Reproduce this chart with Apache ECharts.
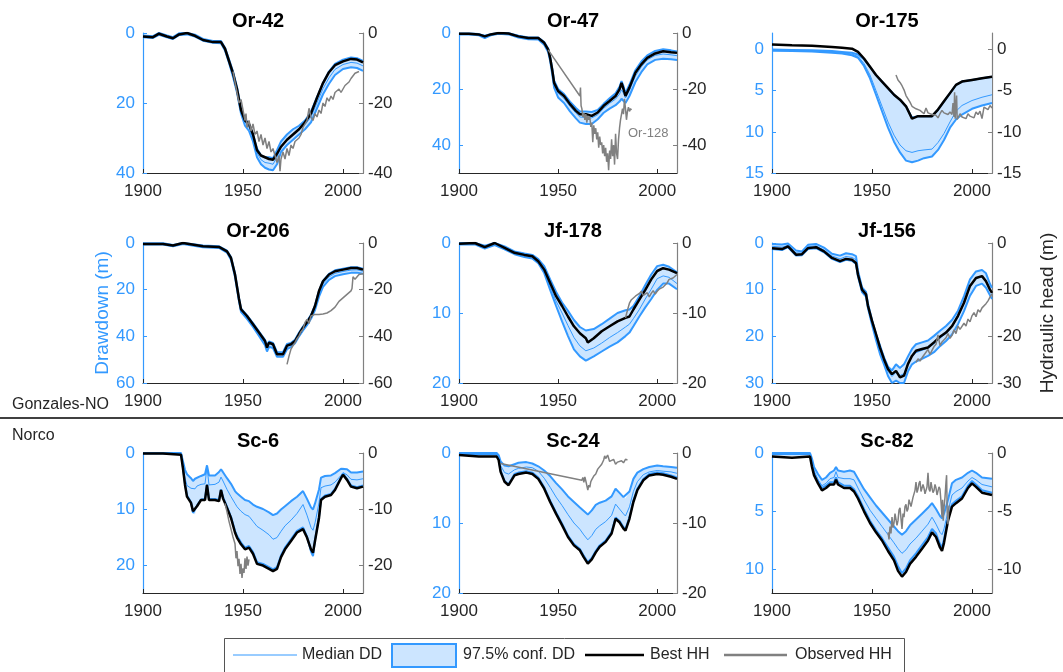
<!DOCTYPE html>
<html>
<head>
<meta charset="utf-8">
<script src="https://cdn.jsdelivr.net/npm/echarts@6/dist/echarts.min.js"></script>
<style>
html,body{margin:0;padding:0;background:#fff}
#chart{width:1063px;height:672px}
</style>
</head>
<body>
<div id="chart"></div>
<script>
// ---- Drawdown (DD, m, positive downward) bands and hydraulic head (HH, m) per well ----
// Or-42
const or42Years = [1900,1905,1908,1912,1915,1918,1922,1926,1930,1935,1939,1941,1943,1945,1947,1949,1951,1953,1955,1957,1959,1961,1963,1965,1967,1969,1972,1975,1978,1981,1984,1987,1990,1993,1996,2000,2004,2007,2010];
const or42Lo   = [0.7,0.9,0,0.7,1.2,0.1,0,0.5,1.7,2.3,2.3,4.2,7.5,11,15.5,21.5,24.5,26,29,33,35,35.5,35.5,35.8,33.5,31,29,27.5,26.5,25,22.5,18.3,14.3,11,8.8,7.6,7.0,7.2,8.0];
const or42Hi   = [1.2,1.4,0.5,1.2,1.7,0.6,0.4,1.0,2.2,2.8,2.9,5.0,8.5,12.5,17,23,26.5,28,31,35.5,37.5,38.5,39,39.2,37.5,34,32,30.5,29,27.5,25.5,21.5,17.5,14.5,12,10.3,9.8,10,10.8];
const or42Med  = [0.9,1.1,0.2,0.9,1.4,0.3,0.2,0.7,1.9,2.5,2.6,4.6,8,11.7,16.2,22.2,25.5,27,30,34.2,36.2,37,37.2,37.5,35.5,32.5,30.5,29,27.7,26.2,24,19.9,15.9,12.8,10.4,9,8.4,8.6,9.4];
const or42Best = [-1.0,-1.2,-0.2,-1.0,-1.5,-0.4,0,-0.8,-2.0,-2.6,-2.6,-4.5,-8,-11.5,-16,-22,-25,-26,-29,-33.5,-35,-35.5,-36,-36.2,-34.5,-32.5,-30.5,-29,-27.5,-25.5,-23,-18.5,-14.3,-11.2,-9.2,-8.1,-7.4,-7.6,-8.4];
const or42Obs = [[1945,-11],[1946,-14],[1947,-17],[1948,-20],[1949,-19],[1950,-22],[1951,-25],[1951.5,-23],[1952,-27],[1953,-25],[1954,-28],[1955,-26],[1956,-29],[1957,-28],[1958,-31],[1959,-29],[1960,-32],[1961,-30],[1962,-33],[1963,-31],[1964,-34],[1965,-33],[1966,-35],[1967,-37],[1968,-35],[1968.5,-39.5],[1969,-36],[1970,-34],[1971,-36],[1972,-33],[1973,-35],[1974,-32],[1975,-33],[1976,-31],[1977,-31.5],[1978,-30],[1979,-29],[1980,-27],[1981,-27.5],[1982,-25],[1983,-21.5],[1984,-24],[1985,-25],[1986,-23],[1987,-24],[1988,-22],[1989,-23],[1990,-20],[1991,-21],[1992,-18.5],[1993,-19.5],[1994,-18],[1995,-19],[1996,-17],[1997,-17.5],[1998,-16],[1999,-17],[2000,-16],[2001,-15],[2002,-15.5],[2003,-14],[2004,-13],[2005,-13.5],[2006,-11.5],[2007,-12],[2008,-11]];

// Or-47 (observed head from Or-128)
const or47Years = [1900,1905,1910,1913,1916,1920,1925,1930,1935,1940,1943,1945,1946,1947,1948,1950,1953,1956,1959,1961,1964,1967,1970,1973,1976,1979,1981,1982,1983,1984,1986,1989,1992,1995,1999,2003,2007,2010];
const or47Lo   = [0.2,0.2,0.4,1.0,0.4,0,0.1,1.0,1.6,1.6,3.2,5.5,8.5,12.5,17,20,21.8,24.5,26.8,28,28,28.2,27.5,25.3,23.3,21.5,19.2,17.2,19,21.5,18.5,13.3,10.2,8,6.4,5.8,6.2,6.6];
const or47Hi   = [0.5,0.5,0.8,1.8,0.8,0.3,0.5,1.6,2.2,2.3,4.2,6.8,10,14.5,19.5,23,25,28,30.5,32,32.5,32.5,30.8,28.5,27,25.8,24.5,23.5,24,25,22.5,17.5,14,11.2,9.6,9.2,9.4,9.6];
const or47Med  = [0.35,0.35,0.6,1.4,0.6,0.15,0.3,1.3,1.9,1.9,3.7,6.1,9.2,13.5,18.2,21.5,23.4,26.2,28.6,30,30.2,30.3,29.2,26.9,25.1,23.6,21.8,20.3,21.5,23.2,20.5,15.4,12.1,9.6,8,7.5,7.8,8.1];
const or47Best = [-0.3,-0.3,-0.5,-1.2,-0.5,0,-0.2,-1.2,-1.8,-1.8,-3.5,-5.9,-8.9,-13,-17.8,-20.7,-22.5,-25.4,-27.8,-29,-29,-29.6,-28.4,-26,-24.3,-22.5,-20.1,-17.8,-20,-22.5,-19.5,-14.2,-11.2,-8.9,-7.3,-6.5,-6.9,-7.1];
const or47Obs = [[1945,-6],[1961,-22.5],[1961.3,-19.5],[1961.6,-26],[1962,-27],[1962.5,-30],[1963,-28.5],[1963.5,-31],[1964,-29],[1964.5,-32],[1965,-29.5],[1965.5,-31],[1966,-30],[1966.5,-33.5],[1967,-32],[1967.5,-39],[1968,-33],[1968.5,-36],[1969,-34],[1969.5,-38],[1970,-35.5],[1970.5,-41],[1971,-37],[1971.5,-40],[1972,-39],[1972.5,-43],[1973,-40],[1973.5,-44],[1974,-41],[1974.5,-46],[1975,-43],[1975.5,-49],[1976,-42],[1976.5,-45],[1977,-38],[1977.5,-44],[1978,-40],[1978.5,-47],[1979,-36],[1979.5,-43],[1980,-45],[1980.5,-38],[1981,-34],[1981.5,-31],[1982,-30.5],[1982.5,-27],[1983,-29],[1983.5,-23.5],[1984,-27],[1984.5,-31],[1985,-28],[1985.5,-26.5],[1986,-28],[1986.5,-27],[1987,-27.5]];

// Or-175
const or175Years = [1900,1910,1920,1930,1935,1940,1943,1946,1949,1952,1955,1958,1961,1964,1967,1970,1973,1976,1980,1983,1986,1989,1992,1995,2000,2005,2010];
const or175Lo   = [0,0.05,0.1,0.2,0.3,0.4,0.6,1.2,2.1,3.1,3.9,4.7,5.5,6.1,6.9,8.3,8.1,8.1,8.1,7.3,6.3,5.3,4.3,3.9,3.7,3.5,3.3];
const or175Hi   = [0.15,0.2,0.25,0.4,0.5,0.7,1.0,2.0,3.5,5.5,7.5,9.5,11.2,12.5,13.5,13.7,13.5,13.2,13.0,12.2,11.0,9.5,8.5,7.9,7.2,6.8,6.5];
const or175Med  = [0.08,0.12,0.18,0.3,0.4,0.55,0.85,1.7,3.1,5.0,6.9,8.8,10.4,11.6,12.3,12.5,12.3,12.2,12.1,11.3,10.2,8.8,7.5,6.8,6.2,5.8,5.5];
const or175Best = [0.6,0.5,0.45,0.3,0.2,0.1,-0.3,-1.1,-2.1,-3.1,-3.9,-4.7,-5.5,-6.1,-6.9,-8.4,-8.1,-8.1,-8.1,-7.3,-6.3,-5.3,-4.3,-3.9,-3.7,-3.5,-3.3];
const or175Obs = [[1962,-3.1],[1963,-3.7],[1964,-4.0],[1965,-4.4],[1966,-4.9],[1967,-5.6],[1968,-5.4],[1969,-6.4],[1970,-6.9],[1971,-6.7],[1972,-7.2],[1973,-7.0],[1974,-7.4],[1975,-7.2],[1976,-7.8],[1977,-7.1],[1978,-7.7],[1979,-7.5],[1980,-7.9],[1981,-8.1],[1982,-8.0],[1983,-8.3],[1984,-7.8],[1985,-7.4],[1986,-7.7],[1987,-7.5],[1988,-7.9],[1989,-7.6],[1990,-7.9],[1990.5,-6.5],[1991,-8.2],[1991.3,-5.2],[1991.6,-8.4],[1992,-6.8],[1992.3,-5.6],[1992.6,-8.5],[1993,-8.3],[1994,-7.8],[1995,-8.2],[1996,-8.0],[1997,-8.4],[1998,-7.8],[1999,-8.1],[2000,-8.0],[2001,-8.3],[2002,-7.6],[2003,-7.9],[2004,-7.5],[2005,-8.4],[2006,-7.0],[2007,-6.8],[2008,-7.3],[2009,-6.8],[2010,-7.1]];

// Or-206
const or206Years = [1900,1910,1915,1920,1930,1938,1942,1944,1946,1948,1949,1952,1955,1958,1961,1962,1963,1965,1967,1970,1972,1974,1976,1978,1980,1982,1984,1986,1988,1990,1993,1996,2000,2004,2007,2010];
const or206Lo   = [0.1,0.1,0.8,0,1.1,1.4,3.3,6,13,23.5,28,31,34.3,38,41.5,44.2,42.2,42.8,46.8,46.8,43.3,42.8,41.5,38.5,35.8,33.5,30.8,26.7,20.5,16.2,13.2,11.7,11.0,10.4,10.4,11.0];
const or206Hi   = [0.6,0.6,1.4,0.4,1.8,2.1,4.1,7.2,14.5,25,29.5,32.5,36,39.8,43.8,46.5,44.5,45,48.8,48.8,45.5,44.5,43,40,37.5,35.2,32.5,28.7,23,18.8,15.8,14.2,13.4,12.8,12.7,13.2];
const or206Med  = [0.35,0.35,1.1,0.2,1.45,1.75,3.7,6.6,13.8,24.2,28.7,31.7,35.1,38.9,42.6,45.3,43.3,43.9,47.8,47.8,44.4,43.6,42.2,39.2,36.6,34.3,31.6,27.7,21.8,17.5,14.5,13,12.2,11.6,11.5,12.1];
const or206Best = [-0.4,-0.4,-1.1,0,-1.4,-1.7,-3.6,-6.4,-13.5,-24,-28.4,-31.3,-34.8,-38.4,-42,-44.8,-42.7,-43.4,-47.7,-47.7,-44,-43.4,-42,-39,-36.3,-34,-31.3,-27,-20.6,-16.4,-13.5,-12.1,-11.4,-10.7,-10.7,-11.4];
const or206Obs = [[1972,-52],[1973,-48.5],[1974,-45.5],[1975,-44],[1976,-42.7],[1977,-41],[1978,-39.8],[1979,-38],[1980,-37],[1981,-34],[1982,-32.7],[1983,-34.5],[1984,-31.3],[1986,-30.6],[1988,-30.6],[1990,-30.4],[1992,-30],[1994,-29],[1996,-27.5],[1998,-25],[2000,-23.5],[2002,-22],[2004,-20.5],[2004.5,-19.5],[2005,-14.5],[2006,-15.5],[2007,-15],[2008,-13.5],[2009,-14],[2010,-13.2]];

// Jf-178
const jf178Years = [1900,1908,1913,1918,1923,1928,1933,1937,1940,1943,1946,1949,1952,1955,1958,1961,1964,1965,1968,1972,1976,1980,1984,1986,1988,1991,1994,1997,2000,2003,2006,2010];
const jf178Lo   = [0,0,0.4,0,0.5,1.2,1.5,1.7,2.3,3.3,5.2,7,8.5,9.7,11,12,12.5,12.6,12.3,11.6,10.8,10,9.6,9.5,9,7.6,6,4.5,3.3,3.1,3.4,4.2];
const jf178Hi   = [0.2,0.2,0.8,0.3,0.9,1.6,2.0,2.2,2.9,4.3,6.7,9,11.2,13.3,15.2,16.2,16.8,16.9,16.2,15.5,14.8,14.2,13.3,12.8,11.9,10.5,9.2,8,6.7,5.8,5.8,6.6];
const jf178Med  = [0.1,0.1,0.6,0.1,0.7,1.4,1.75,1.95,2.6,3.8,6.2,8.3,10,11.8,13.5,14.7,15.4,15.6,15,14.3,13.5,12.8,12,11.6,10.8,9.5,8,6.6,5.1,4.7,4.9,5.8];
const jf178Best = [-0.1,0,-0.6,0,-0.7,-1.4,-1.7,-1.9,-2.6,-3.8,-5.7,-7.6,-9,-10.5,-11.9,-12.9,-13.6,-14.2,-13.6,-12.6,-11.9,-11.2,-10.7,-10.5,-9.5,-8.1,-6.7,-5.2,-4,-3.6,-3.8,-4.3];
const jf178Obs = [[1984,-10.7],[1985,-9.6],[1986,-8.6],[1987,-8.1],[1988,-7.9],[1989,-7.6],[1990,-7.4],[1991,-7.2],[1992,-6.9],[1993,-7.5],[1994,-7.6],[1995,-7.1],[1996,-7.7],[1997,-7.2],[1998,-6.8],[1999,-7.3],[2000,-6.9],[2001,-6.6],[2002,-6.4],[2003,-6.3],[2004,-6.0],[2005,-5.7],[2006,-5.2],[2007,-5.3],[2008,-5.0],[2009,-4.8],[2010,-4.5]];

// Jf-156
const jf156Years = [1900,1905,1908,1912,1915,1918,1922,1926,1930,1934,1937,1940,1942,1943,1945,1947,1948,1950,1952,1954,1956,1958,1960,1962,1964,1965,1966,1968,1970,1972,1975,1978,1981,1984,1987,1990,1993,1996,1999,2002,2005,2007,2009,2010];
const jf156Lo   = [0.2,0.3,0.1,1.6,1.8,0.4,0.2,1.0,2.3,2.7,2.2,2.4,2.8,6.0,9.5,10.5,13,16.5,19.5,22,24.5,26.5,27.3,26,26.8,27,26,24.3,22.7,21.7,21.3,20.9,19.9,18.8,17.8,16.5,14.5,11.4,7.8,6.1,5.8,6.5,8.8,9.6];
const jf156Hi   = [1.3,1.5,0.9,2.7,2.6,1.3,1.1,2.0,3.4,4.1,3.6,3.8,4.5,7.2,10.5,11.5,14,17.5,20.8,23.8,26,28.5,30,29.5,30,30,30,27.5,26,25.4,24.8,24.2,23.4,22.1,21,19.6,17.4,14.6,11.3,9.2,8.7,9.6,11.2,12];
const jf156Med  = [0.7,0.9,0.5,2.1,2.2,0.8,0.6,1.5,2.8,3.4,2.9,3.1,3.6,6.6,10,11,13.5,17,20.1,22.9,25.2,27.5,28.6,27.7,28.4,28.5,28,25.9,24.3,23.5,23,22.5,21.6,20.4,19.4,18,15.9,12.9,9.5,7.6,7.2,8,10,10.8];
const jf156Best = [-1.1,-1.3,-0.7,-2.5,-2.4,-1.1,-0.9,-1.8,-3.2,-3.9,-3.4,-3.6,-4.3,-6.8,-10,-11,-13.5,-16.7,-19.5,-22.4,-24.9,-27,-28.1,-27.4,-28.8,-29.1,-28.4,-25.9,-24.2,-23.1,-22.7,-22.4,-21.3,-20.1,-19.2,-17.8,-15.6,-12.8,-9.2,-7.5,-7.1,-8.2,-10,-10.7];
const jf156Obs = [[1972,-25.6],[1973,-24.8],[1974,-25.3],[1975,-24.6],[1976,-24.0],[1977,-23.6],[1978,-22.8],[1979,-23.9],[1980,-23.0],[1981,-22.2],[1982,-21.7],[1983,-19.7],[1984,-22.0],[1985,-21.2],[1986,-21.5],[1987,-20.3],[1988,-19.4],[1989,-20.4],[1990,-19.8],[1991,-18.6],[1992,-19.4],[1993,-17.8],[1994,-18.5],[1995,-18.3],[1996,-17.2],[1997,-17.8],[1998,-16.3],[1999,-16.9],[2000,-15.6],[2001,-14.9],[2002,-15.8],[2003,-14.3],[2004,-14.8],[2005,-13.9],[2006,-13.6],[2007,-13.0],[2008,-12.4],[2009,-11.6],[2010,-10.9]];

// Sc-6
const sc6Years = [1900,1910,1919,1920,1921,1922,1924,1925,1926,1927,1929,1931,1932,1933,1936,1938,1939,1940,1942,1944,1946,1947,1949,1951,1953,1955,1957,1960,1963,1965,1967,1969,1971,1974,1977,1980,1982,1984,1985,1986,1988,1989,1991,1994,1996,1999,2000,2002,2004,2007,2010];
const sc6Lo   = [0,0,0,1.5,3,3.8,4.5,5,4.6,4.3,4.1,3.8,2.2,4,4,3.4,2.9,3,4.5,5.5,6.8,7.2,7.8,8.4,8.6,9.2,9.6,10,10.6,11.1,10.8,10.1,9.5,8.6,7.8,6.8,8.2,9.7,10.1,9,6.5,4.4,4.1,4,3.6,2.8,2.6,2.9,3.5,3.5,3.3];
const sc6Hi   = [0.1,0.1,0.2,2.6,5.5,7.6,8.8,10.7,11.0,9.4,8.3,8.2,5.6,8.2,8.2,8.4,6.5,7.9,9.6,11.4,13.9,14.8,16.0,16.9,16.6,17.7,19.5,19.8,20.4,20.8,20.4,18.3,16.9,15.4,13.9,13.3,14.9,17.6,18.4,15.5,11.4,8.2,7.6,7.3,6.4,4.3,3.7,4.6,5.8,6.1,5.8];
const sc6Med  = [0.05,0.05,0.1,2,4.5,5.8,6.3,6.6,6.4,5.9,5.6,5.5,2.5,5.7,5.6,5.2,4.3,5,6.5,7.8,9,9.6,10.4,11,11.3,12.2,13.1,13.8,14.6,15.4,15.1,14,13,12,10.8,9.2,11.1,13.3,13.8,12.5,8.9,6.2,5.9,5.7,5.2,4,3.5,3.9,4.7,4.8,4.6];
const sc6Best = [-0.1,-0.1,-0.3,-2.8,-5.7,-7.8,-8.9,-10.4,-10.7,-9.5,-8.4,-8.4,-5.7,-8.4,-8.4,-8.6,-6.6,-8.1,-9.8,-11.6,-14.2,-15.1,-16.3,-17.2,-16.9,-18,-19.8,-20.1,-20.7,-21.1,-20.7,-18.6,-17.2,-15.7,-14.2,-13.6,-15.1,-17.2,-17.8,-15.7,-11.6,-8.4,-7.8,-7.5,-6.6,-4.5,-3.9,-4.8,-6,-6.3,-6];
const sc6Obs = [[1941,-9],[1942,-10.5],[1943,-12.2],[1944,-13.6],[1945,-15],[1946,-16.2],[1946.5,-18.8],[1947,-17.5],[1947.5,-20.2],[1948,-18.9],[1948.5,-21.6],[1949,-19.8],[1949.5,-22.3],[1950,-20.6],[1950.5,-21.4],[1951,-18.8],[1951.5,-20.7],[1952,-18.5],[1952.5,-20.1],[1953,-19]];

// Sc-24
const sc24Years = [1900,1910,1919,1920,1921,1923,1925,1926,1928,1930,1934,1937,1940,1943,1946,1949,1952,1955,1958,1961,1963,1965,1967,1969,1971,1974,1977,1979,1981,1983,1984,1986,1988,1990,1993,1996,2000,2003,2007,2010];
const sc24Lo   = [0,0,0,0.3,1.2,1.8,1.9,1.8,1.6,1.4,1.3,1.5,1.9,2.5,3.3,4.3,5.2,6.2,7,7.8,8.3,8.8,8.2,7.4,7.1,6.8,6.2,5.1,5.7,6.3,6.5,5.5,3.7,2.8,2.3,2,1.8,1.9,2,2.1];
const sc24Hi   = [0.1,0.2,0.2,0.8,2.5,4.0,4.5,4.3,3.0,2.8,2.6,2.8,3.5,4.9,6.8,8.5,10.1,11.8,13,13.7,14.7,15.6,15,14,13.2,12.5,11.3,9.2,9.7,10.6,10.9,9.2,6.8,5.1,3.7,3,2.8,2.9,3.2,3.5];
const sc24Med  = [0.05,0.1,0.1,0.5,1.8,2.8,3,2.9,2.4,2.2,2,2.1,2.6,3.6,4.9,6.3,7.5,8.8,10,10.9,11.7,12.4,11.8,10.9,10.4,9.8,8.9,7.3,8,8.7,9,7.7,5.5,4.1,3.1,2.7,2.5,2.6,2.7,2.9];
const sc24Best = [-0.3,-0.5,-0.5,-1,-2.7,-4.1,-4.6,-4.4,-3.2,-3,-2.8,-3,-3.7,-5.1,-7,-8.7,-10.3,-12,-13.2,-13.9,-14.9,-15.8,-15.2,-14.2,-13.4,-12.7,-11.5,-9.4,-9.9,-10.8,-11.1,-9.4,-7,-5.3,-3.9,-3.2,-3,-3.1,-3.4,-3.7];
const sc24Obs = [[1921,-1.5],[1962,-3.9],[1962.5,-3.5],[1963,-4.2],[1963.5,-3.4],[1964,-4.0],[1964.5,-3.8],[1965,-5.3],[1965.5,-4.6],[1966,-4.9],[1966.5,-4.1],[1967,-3.8],[1968,-3.3],[1969,-3.0],[1970,-2.3],[1971,-2.5],[1972,-1.6],[1973,-1.0],[1973.5,-0.4],[1974,-0.8],[1975,-0.3],[1976,-1.2],[1977,-1.4],[1978,-0.9],[1979,-1.6],[1980,-1.3],[1981,-1.5],[1982,-1.1],[1983,-1.4],[1984,-0.9],[1985,-1.0]];

// Sc-82
const sc82Years = [1900,1910,1919,1920,1921,1923,1925,1927,1929,1931,1932,1933,1936,1939,1941,1943,1946,1949,1952,1955,1958,1961,1963,1965,1967,1969,1972,1975,1978,1980,1982,1984,1985,1986,1988,1990,1992,1995,1998,2000,2002,2005,2010];
const sc82Lo   = [0,0,0,0.5,1.2,1.8,2.3,2.1,1.7,1.5,1.2,1.5,1.6,1.5,1.6,2.2,3.1,3.8,4.5,5.1,5.7,6.3,6.7,7,6.7,6.2,5.7,5.2,4.7,4.3,4.8,5.4,5.6,5.2,4,2.6,2.3,2.1,1.7,1.5,1.7,2.1,2.2];
const sc82Hi   = [0.1,0.1,0.1,1.0,1.7,2.4,3.0,2.8,2.5,2.5,2.1,2.5,2.8,2.8,3.1,3.7,4.8,5.8,6.6,7.3,8.1,8.9,9.7,10.3,9.9,9.2,8.6,7.9,7.2,6.5,6.9,7.8,8.1,7.4,5.5,4.4,4.1,3.7,2.8,2.4,2.7,3.2,3.4];
const sc82Med  = [0.05,0.05,0.05,0.7,1.5,2.3,2.8,2.6,2.2,2.1,1.6,2.1,2.2,2.2,2.3,3,4,4.9,5.6,6.3,7,7.7,8.2,8.6,8.3,7.8,7.3,6.7,6.1,5.5,6.1,6.8,7,6.5,5,3.6,3.3,3,2.4,2.1,2.3,2.7,2.9];
const sc82Best = [-0.3,-0.4,-0.3,-1.2,-1.9,-2.6,-3.2,-3,-2.7,-2.7,-2.3,-2.7,-3,-3,-3.3,-3.9,-5,-6,-6.8,-7.5,-8.4,-9.2,-10.1,-10.6,-10.2,-9.5,-8.9,-8.2,-7.5,-6.8,-7.2,-8.1,-8.4,-7.7,-5.8,-4.6,-4.3,-3.9,-3,-2.6,-2.9,-3.4,-3.6];
const sc82Obs = [[1958,-6.8],[1958.5,-7.4],[1959,-6.3],[1959.5,-6.9],[1960,-5.5],[1960.5,-6.4],[1961,-6.0],[1961.5,-5.2],[1962,-5.3],[1962.5,-6.2],[1963,-5.8],[1963.5,-4.9],[1964,-4.7],[1964.5,-5.6],[1965,-6.5],[1965.5,-5.2],[1966,-5.5],[1966.5,-4.6],[1967,-4.4],[1967.5,-5.0],[1968,-4.8],[1968.5,-4.0],[1969,-4.0],[1969.5,-4.6],[1970,-4.7],[1970.5,-3.8],[1971,-3.7],[1971.5,-3.2],[1972,-2.5],[1972.5,-3.4],[1973,-3.1],[1973.5,-2.6],[1974,-2.4],[1974.5,-3.3],[1975,-3.2],[1975.5,-2.7],[1976,-3.0],[1976.5,-3.5],[1977,-3.2],[1977.5,-2.9],[1978,-1.7],[1978.5,-3.1],[1979,-3.3],[1979.5,-2.5],[1980,-3.0],[1980.5,-3.4],[1981,-3.2],[1981.5,-2.7],[1982,-3.0],[1982.5,-3.6],[1983,-3.5],[1983.5,-2.9],[1984,-3.1],[1984.5,-4.2],[1985,-5.5],[1985.3,-4.0],[1985.6,-5.8],[1986,-4.7],[1986.5,-3.8],[1987,-2.5],[1987.3,-1.9],[1987.6,-5.0],[1988,-6.1],[1988.5,-4.5]];

// Axis ranges / ticks (drawdown axis; head axis is its mirror)
const yearTicks = [1900, 1950, 2000];
const wells = ['Or-42','Or-47','Or-175','Or-206','Jf-178','Jf-156','Sc-6','Sc-24','Sc-82'];
const ddRanges = [[0,40],[0,50],[-2,15],[0,60],[0,20],[0,30],[0,25],[0,20],[0,12]];
const ddTicks = [[0,20,40],[0,20,40],[0,5,10,15],[0,20,40,60],[0,10,20],[0,10,20,30],[0,10,20],[0,10,20],[0,5,10]];
const legendLabels = ['Median DD','97.5% conf. DD','Best HH','Observed HH'];

const wellData = [
  [or42Years, or42Lo, or42Hi, or42Med, or42Best, or42Obs],
  [or47Years, or47Lo, or47Hi, or47Med, or47Best, or47Obs],
  [or175Years, or175Lo, or175Hi, or175Med, or175Best, or175Obs],
  [or206Years, or206Lo, or206Hi, or206Med, or206Best, or206Obs],
  [jf178Years, jf178Lo, jf178Hi, jf178Med, jf178Best, jf178Obs],
  [jf156Years, jf156Lo, jf156Hi, jf156Med, jf156Best, jf156Obs],
  [sc6Years, sc6Lo, sc6Hi, sc6Med, sc6Best, sc6Obs],
  [sc24Years, sc24Lo, sc24Hi, sc24Med, sc24Best, sc24Obs],
  [sc82Years, sc82Lo, sc82Hi, sc82Med, sc82Best, sc82Obs]
];

// ---- layout & styling ----
const FONT = '"Liberation Sans", Arial, Helvetica, sans-serif';
const BLUE = '#3399ff';
const FILL = '#cce5ff';
const GREY = '#808080';
const INK = '#262626';
const colLeft = [143, 459, 772];
const colWidth = [220, 218, 220];
const rowTop = [33, 243, 453];
const plotH = 140;
const TICK_FONT = 17;
const plain = v => String(v);

const grids = [], xAxes = [], yAxes = [], series = [], titles = [];

wells.forEach((name, i) => {
  const col = i % 3, row = Math.floor(i / 3);
  const [years, lo, hi, med, best, obs] = wellData[i];
  const [dMin, dMax] = ddRanges[i];
  const left = colLeft[col], top = rowTop[row], width = colWidth[col];

  grids.push({ left, top, width, height: plotH, containLabel: false });
  titles.push({
    text: name, left: left + width / 2, top: top - 27, textAlign: 'center',
    textStyle: { fontFamily: FONT, fontSize: 20, fontWeight: 'bold', color: '#000' }
  });

  xAxes.push({
    gridIndex: i, type: 'value', min: 1900, max: 2010,
    axisLine: { show: true, onZero: false, lineStyle: { color: INK, width: 1 } },
    axisTick: { show: true, inside: true, length: 4, customValues: yearTicks, lineStyle: { color: INK } },
    axisLabel: { customValues: yearTicks, formatter: plain, color: INK, fontFamily: FONT, fontSize: TICK_FONT, margin: 10 },
    splitLine: { show: false }
  });

  const leftTicks = ddTicks[i];
  const rightTicks = ddTicks[i].map(v => (v === 0 ? 0 : -v));
  yAxes.push({
    gridIndex: i, type: 'value', position: 'left', inverse: true, min: dMin, max: dMax,
    axisLine: { show: true, onZero: false, lineStyle: { color: BLUE, width: 1.2 } },
    axisTick: { show: true, inside: true, length: 4, customValues: leftTicks, lineStyle: { color: BLUE } },
    axisLabel: { customValues: leftTicks, formatter: plain, color: BLUE, fontFamily: FONT, fontSize: TICK_FONT, margin: 8 },
    splitLine: { show: false }
  });
  yAxes.push({
    gridIndex: i, type: 'value', position: 'right', min: -dMax, max: -dMin,
    axisLine: { show: true, onZero: false, lineStyle: { color: GREY, width: 1.2 } },
    axisTick: { show: true, inside: true, length: 4, customValues: rightTicks, lineStyle: { color: GREY } },
    axisLabel: { customValues: rightTicks, formatter: plain, color: INK, fontFamily: FONT, fontSize: TICK_FONT, margin: 5 },
    splitLine: { show: false }
  });

  const yl = 2 * i, yr = 2 * i + 1;
  // confidence band as a filled polygon between the lower and upper bound
  series.push({
    type: 'custom', xAxisIndex: i, yAxisIndex: yl, silent: true, z: 1,
    data: years.map((y, k) => [y, lo[k], hi[k]]),
    encode: { x: 0, y: [1, 2] },
    renderItem: (params, api) => {
      if (params.dataIndex !== 0) return null;
      const upper = years.map((y, k) => api.coord([y, lo[k]]));
      const lower = years.map((y, k) => api.coord([y, hi[k]])).reverse();
      return { type: 'polygon', shape: { points: upper.concat(lower) }, style: { fill: FILL, stroke: null } };
    }
  });
  const line = (data, yIdx, color, width, z) => ({
    type: 'line', xAxisIndex: i, yAxisIndex: yIdx, data, symbol: 'none', silent: true, z,
    lineStyle: { color, width }, emphasis: { disabled: true }
  });
  series.push(line(years.map((y, k) => [y, lo[k]]), yl, BLUE, 2, 2));
  series.push(line(years.map((y, k) => [y, hi[k]]), yl, BLUE, 2, 2));
  series.push(line(years.map((y, k) => [y, med[k]]), yl, BLUE, 1, 3));
  series.push(line(years.map((y, k) => [y, best[k]]), yr, '#000', 2.5, 4));
  series.push(line(obs, yr, GREY, 1.5, 5));
});

// ---- free text, separator and legend ----
const txt = (text, x, y, opts = {}) => ({
  type: 'text', x, y, rotation: opts.rotation || 0, silent: true,
  style: {
    text, x: 0, y: 0, fill: opts.color || INK,
    font: `${opts.weight || 'normal'} ${opts.size || 16}px ${FONT}`,
    textAlign: opts.align || 'left', textVerticalAlign: 'middle'
  }
});

const legendY = 655;
const graphics = [
  txt('Drawdown (m)', 103, 313, { rotation: Math.PI / 2, align: 'center', color: BLUE, size: 19 }),
  txt('Hydraulic head (m)', 1048, 313, { rotation: Math.PI / 2, align: 'center', color: INK, size: 19 }),
  txt('Gonzales-NO', 12, 405, { size: 16 }),
  txt('Norco', 12, 436, { size: 16 }),
  { type: 'line', silent: true, shape: { x1: 0, y1: 418, x2: 1063, y2: 418 }, style: { stroke: '#000', lineWidth: 1.5 } },
  txt('Or-128', 628, 133, { color: GREY, size: 13 }),
  { type: 'rect', silent: true, shape: { x: 224.5, y: 638.5, width: 680, height: 40 }, style: { fill: '#fff', stroke: '#555', lineWidth: 1 } },
  { type: 'line', silent: true, shape: { x1: 233, y1: legendY, x2: 297, y2: legendY }, style: { stroke: BLUE, lineWidth: 1 } },
  txt(legendLabels[0], 302, legendY, { size: 16 }),
  { type: 'rect', silent: true, shape: { x: 392, y: 644, width: 64, height: 23 }, style: { fill: FILL, stroke: BLUE, lineWidth: 2 } },
  txt(legendLabels[1], 463, legendY, { size: 16 }),
  { type: 'line', silent: true, shape: { x1: 585, y1: legendY, x2: 644, y2: legendY }, style: { stroke: '#000', lineWidth: 2.5 } },
  txt(legendLabels[2], 650, legendY, { size: 16 }),
  { type: 'line', silent: true, shape: { x1: 724, y1: legendY, x2: 787, y2: legendY }, style: { stroke: GREY, lineWidth: 2.5 } },
  txt(legendLabels[3], 795, legendY, { size: 16 })
];

const chart = echarts.init(document.getElementById('chart'), null, { renderer: 'canvas' });
chart.setOption({
  animation: false,
  backgroundColor: '#fff',
  title: titles,
  grid: grids,
  xAxis: xAxes,
  yAxis: yAxes,
  series,
  graphic: graphics
});
</script>
</body>
</html>
